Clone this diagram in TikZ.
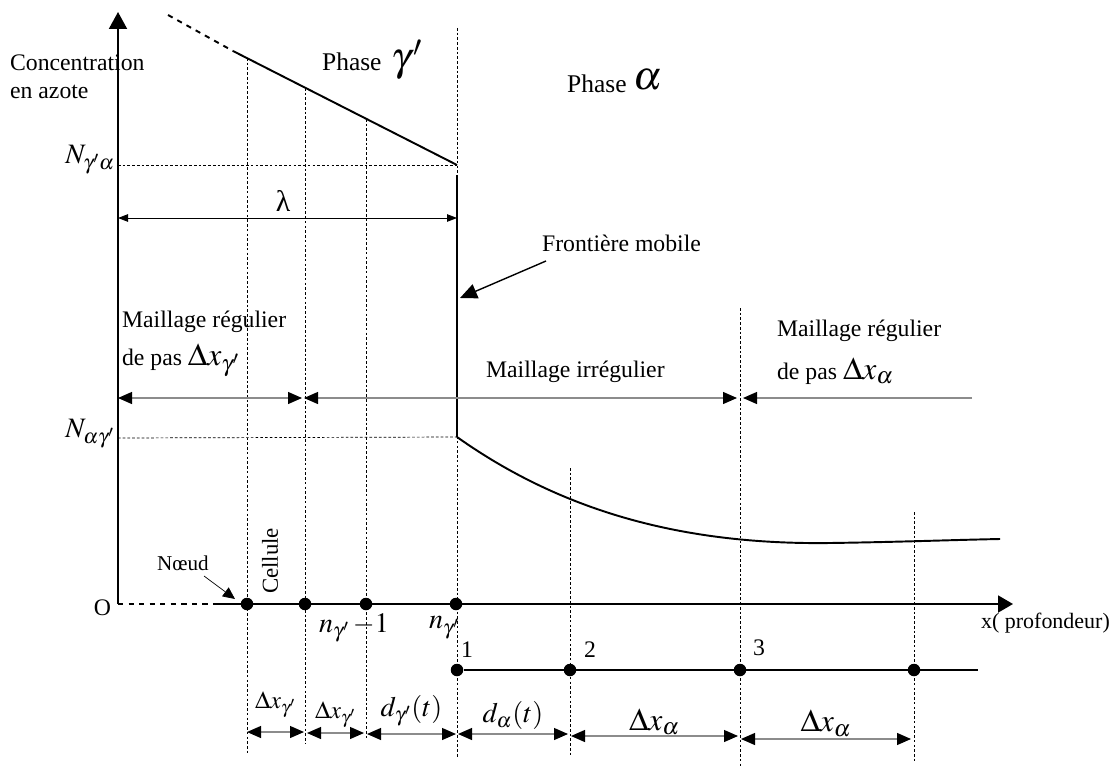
\documentclass[tikz,border=0pt]{standalone}
\usepackage{mathptmx}
\usepackage{fontspec}
\setmainfont{Liberation Serif}
\usetikzlibrary{positioning, arrows.meta, calc}

\begin{document}
\begin{tikzpicture}[
    x=0.2mm, y=-0.2mm,
    axis/.style={line width=1.1pt},
    grid/.style={line width=0.4pt, dash pattern=on 1.5pt off 1.2pt},
    front/.style={line width=1.4pt},
    nodedot/.style={circle, fill=black, inner sep=0pt, minimum size=2.5mm},
    span/.style={{Triangle[length=2.8mm,width=2.4mm,color=black]}-{Triangle[length=2.8mm,width=2.4mm,color=black]},
                 draw=black!45, line width=0.7pt},
    halfspan/.style={-{Triangle[length=2.8mm,width=2.4mm,color=black]}, draw=black!45, line width=0.7pt},
    lbl/.style={font=\fontsize{13.5}{16}\selectfont, inner sep=1pt},
    small/.style={font=\fontsize{11}{13}\selectfont, inner sep=1pt},
    mathlbl/.style={font=\fontsize{16}{18}\selectfont, inner sep=1pt},
    mathsmall/.style={font=\fontsize{14}{16}\selectfont, inner sep=1pt}
  ]
    \useasboundingbox (0,0) rectangle (1119,769);

    % axes
    \coordinate (O) at (118,604);
    \coordinate (ytip) at (118,12);
    \coordinate (xdash) at (218,604);
    \coordinate (xtip) at (1013,604);
    \draw[axis, -{Triangle[length=3.4mm,width=3.6mm]}] (O) -- (ytip);
    \draw[axis, dashed] (O) -- (xdash);
    \draw[axis, -{Triangle[length=3mm,width=3.4mm]}] (xdash) -- (xtip);

    % mesh lines
    \foreach \x/\t/\b in {247/58/755, 305/88/743, 366/119/738, 457/28/758,
                          570/468/755, 740/308/768, 914/512/762}
      \draw[grid] (\x,\t) -- (\x,\b);

    % concentration profile
    \coordinate (Nga) at (457,165);
    \coordinate (Nag) at (457,437);
    \coordinate (top) at (457,175);
    \coordinate (lineS) at (233,51);
    \coordinate (lineD) at (168,15);
    \draw[axis, dashed] (lineD) -- (lineS);
    \draw[axis] (lineS) -- (Nga);
    \draw[front] (top) -- (Nag);
    \draw[axis] (Nag) .. controls (560,510) and (680,545) .. (830,543)
                      .. controls (900,542) and (950,540) .. (1000,539);
    \draw[grid] (118,165) -- (Nga);
    \draw[grid] (118,438) -- (Nag);

    % nodes on the x axis
    \node[nodedot] (g1) at (247,604) {};
    \node[nodedot] (g2) at (305,604) {};
    \node[nodedot] (g3) at (366,604) {};
    \node[nodedot] (g4) at (456,604) {};
    \node[nodedot] (a1) at (457,670) {};
    \node[nodedot] (a2) at (570,670) {};
    \node[nodedot] (a3) at (740,670) {};
    \node[nodedot] (a4) at (914,670) {};
    \coordinate (aend) at (978,670);
    \draw[axis] (a1) -- (aend);

    % labels
    \node[lbl, anchor=west] (conc) at (8,63) {Concentration};
    \node[lbl, anchor=west] (azote) at (8,92) {en azote};
    \node[lbl, font=\fontsize{14.5}{16}\selectfont, anchor=west] (phg) at (320,62) {Phase};
    \node[font=\fontsize{23}{25}\selectfont, inner sep=0pt] (phgsym) at (407,60) {$\gamma{\kern1pt}'$};
    \node[lbl, font=\fontsize{14.5}{16}\selectfont, anchor=west] (pha) at (565,84) {Phase};
    \node[font=\fontsize{23}{25}\selectfont, inner sep=0pt] (phasym) at (648,80) {$\alpha$};
    \node[mathlbl, anchor=east] (Nga lbl) at (117,160) {$N_{\gamma'\alpha}$};
    \node[mathlbl, anchor=east] (Nag lbl) at (117,434) {$N_{\alpha\gamma'}$};
    \node[lbl, anchor=east] (Olbl) at (113,608) {O};

    % lambda
    \coordinate (lamL) at (118,218);
    \coordinate (lamR) at (457,218);
    \draw[{Triangle[length=2mm,width=1.5mm]}-{Triangle[length=2mm,width=1.5mm]}, line width=0.5pt] (lamL) -- (lamR);
    \node[lbl, font=\fontsize{17}{19}\selectfont] (lam) at (283,201) {λ};

    % moving boundary
    \node[lbl, anchor=west] (front lbl) at (540,243) {Frontière mobile};
    \coordinate (fstart) at (546,261);
    \coordinate (fend) at (460,298);
    \draw[-{Triangle[length=3.4mm,width=3mm]}, line width=0.8pt] (fstart) -- (fend);

    % meshes
    \node[lbl, anchor=west] (reg1) at (120,322) {Maillage régulier};
    \node[lbl, anchor=west] (pas1) at (120,360) {de pas {\fontsize{18}{20}\selectfont$\Delta x_{\gamma'}$}};
    \node[lbl, anchor=west] (irr) at (484,372) {Maillage irrégulier};
    \node[lbl, anchor=west] (reg2) at (775,331) {Maillage régulier};
    \node[lbl, anchor=west] (pas2) at (775,371) {de pas {\fontsize{18}{20}\selectfont$\Delta x_{\alpha}$}};
    \coordinate (m0) at (118,398);
    \coordinate (m1) at (302,398);
    \coordinate (m2) at (304,398);
    \coordinate (m3) at (737,398);
    \coordinate (m4) at (743,398);
    \coordinate (m5) at (972,398);
    \draw[span] (m0) -- (m1);
    \draw[span] (m2) -- (m3);
    \draw[halfspan] (m5) -- (m4);

    % node / cell
    \node[lbl, font=\fontsize{12}{14}\selectfont, anchor=west] (noeud) at (155,563) {Nœud};
    \coordinate (nstart) at (204,576);
    \coordinate (nend) at (235,599);
    \draw[-{Triangle[length=2.4mm,width=2.2mm]}, line width=0.4pt] (nstart) -- (nend);
    \node[lbl, font=\fontsize{13}{15}\selectfont, rotate=90] (cell) at (270,561) {Cellule};

    \node[mathlbl, anchor=west] (n1lbl) at (317,628) {$n_{\gamma'}\,{-}1$};
    \node[mathlbl, anchor=west] (n2lbl) at (427,628) {$n_{\gamma'}$};
    \node[lbl, anchor=west] (i1) at (459,650) {1};
    \node[lbl, anchor=west] (i2) at (582,650) {2};
    \node[lbl, anchor=west] (i3) at (751,648) {3};
    \node[lbl, font=\fontsize{12.5}{14}\selectfont, anchor=west] (xlbl) at (979,623) {x( profondeur)};

    % cell widths
    \coordinate (b1) at (247,732);
    \coordinate (b2) at (304,732);
    \coordinate (b3) at (307,733);
    \coordinate (b4) at (364,733);
    \coordinate (b5) at (367,734);
    \coordinate (b6) at (456,734);
    \coordinate (b7) at (458,734);
    \coordinate (b8) at (568,734);
    \coordinate (b9) at (571,736);
    \coordinate (b10) at (738,736);
    \coordinate (b11) at (741,739);
    \coordinate (b12) at (911,739);
    \draw[span] (b1) -- node[mathsmall, above=7pt]{$\Delta x_{\gamma'}$} (b2);
    \draw[span] (b3) -- node[mathsmall, above=2pt]{$\Delta x_{\gamma'}$} (b4);
    \draw[span] (b5) -- node[mathlbl, above=3pt]{$d_{\gamma'}(t)$} (b6);
    \draw[span] (b7) -- node[mathlbl, above=1pt]{$d_{\alpha}(t)$} (b8);
    \draw[span] (b9) -- node[mathlbl, font=\fontsize{18}{20}\selectfont, above=-1pt]{$\Delta x_{\alpha}$} (b10);
    \draw[span] (b11) -- node[mathlbl, font=\fontsize{18}{20}\selectfont, above=0pt]{$\Delta x_{\alpha}$} (b12);
  \end{tikzpicture}
\end{document}
